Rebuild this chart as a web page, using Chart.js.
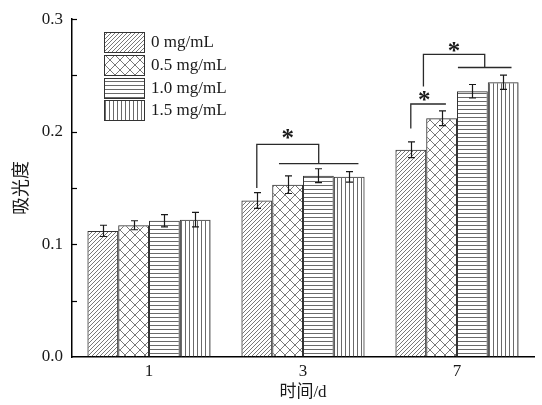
<!DOCTYPE html>
<html>
<head>
<meta charset="utf-8">
<script src="https://cdn.jsdelivr.net/npm/chart.js@4/dist/chart.umd.min.js"></script>
<style>
  html, body { margin: 0; padding: 0; background: #fff; }
  #wrap { width: 542px; height: 405px; }
</style>
</head>
<body>
<div id="wrap"><canvas id="c" width="542" height="405"></canvas></div>
<script>
// Absorbance by culture time and extract concentration
const days = ['1', '3', '7'];
const concentrations = ['0 mg/mL', '0.5 mg/mL', '1.0 mg/mL', '1.5 mg/mL'];

const abs0  = [0.112, 0.139, 0.184];
const abs05 = [0.117, 0.153, 0.212];
const abs10 = [0.121, 0.161, 0.236];
const abs15 = [0.122, 0.160, 0.244];

const sd0  = [0.005, 0.007, 0.007];
const sd05 = [0.004, 0.0078, 0.0066];
const sd10 = [0.0055, 0.0062, 0.006];
const sd15 = [0.0065, 0.0047, 0.0063];

const yTickValues = [0, 0.1, 0.2, 0.3];
const yTickLabels = ['0.0', '0.1', '0.2', '0.3'];
const yMinorValues = [0.05, 0.1, 0.15, 0.2, 0.25, 0.3];

const SERIF = "'Liberation Serif', 'Times New Roman', serif";
const CJK = "'Liberation Serif', 'Noto Sans CJK SC', serif";
const INK = '#1a1a1a';
const HATCH = '#555';

// Hatch fills for the four concentrations
function makePattern(kind) {
  const c = document.createElement('canvas');
  const g = c.getContext('2d');
  let s = 4;
  if (kind === 'cross') s = 10;
  c.width = s; c.height = s;
  g.strokeStyle = HATCH;
  g.fillStyle = HATCH;
  g.lineWidth = 0.8;
  if (kind === 'diag') {
    g.beginPath();
    g.moveTo(0, s); g.lineTo(s, 0);
    g.moveTo(-1, 1); g.lineTo(1, -1);
    g.moveTo(s - 1, s + 1); g.lineTo(s + 1, s - 1);
    g.stroke();
  } else if (kind === 'cross') {
    g.beginPath();
    g.moveTo(0, 0); g.lineTo(s, s);
    g.moveTo(0, s); g.lineTo(s, 0);
    g.stroke();
  } else if (kind === 'horiz') {
    g.fillStyle = '#6a6a6a';
    g.fillRect(0, 1, s, 1);
  } else if (kind === 'vert') {
    g.fillStyle = '#6a6a6a';
    g.fillRect(1, 0, 1, s);
  }
  return g.createPattern(c, 'repeat');
}

const fills = [makePattern('diag'), makePattern('cross'), makePattern('horiz'), makePattern('vert')];
const seriesValues = [abs0, abs05, abs10, abs15];
const seriesErrors = [sd0, sd05, sd10, sd15];

const datasets = seriesValues.map((vals, k) => ({
  label: concentrations[k],
  data: vals,
  backgroundColor: fills[k],
  borderColor: '#333',
  borderWidth: 1,
  borderSkipped: 'start',
  categoryPercentage: 0.8,
  barPercentage: 1.0
}));

const whiteBg = {
  id: 'whiteBg',
  beforeDraw(chart) {
    const ctx = chart.ctx;
    ctx.save();
    ctx.fillStyle = '#fff';
    ctx.fillRect(0, 0, chart.width, chart.height);
    ctx.restore();
  }
};

const decorations = {
  id: 'decorations',
  afterDatasetsDraw(chart) {
    const ctx = chart.ctx;
    const y = chart.scales.y;
    const area = chart.chartArea;
    const bar = (d, i) => chart.getDatasetMeta(d).data[i];

    ctx.save();

    // error bars
    ctx.strokeStyle = INK;
    ctx.lineWidth = 1.2;
    seriesValues.forEach((vals, d) => {
      vals.forEach((v, i) => {
        const el = bar(d, i);
        const e = seriesErrors[d][i];
        const yt = y.getPixelForValue(v + e);
        const yb = y.getPixelForValue(v - e);
        const x = Math.round(el.x) + 0.5;
        ctx.beginPath();
        ctx.moveTo(x, yt); ctx.lineTo(x, yb);
        ctx.moveTo(x - 3.5, yt); ctx.lineTo(x + 3.5, yt);
        ctx.moveTo(x - 3.5, yb); ctx.lineTo(x + 3.5, yb);
        ctx.stroke();
      });
    });

    // inward ticks on the value axis
    ctx.strokeStyle = '#000';
    ctx.lineWidth = 1.2;
    yMinorValues.forEach(v => {
      const py = Math.round(y.getPixelForValue(v)) + 0.5;
      ctx.beginPath();
      ctx.moveTo(area.left, py); ctx.lineTo(area.left + 5, py);
      ctx.stroke();
    });

    // significance brackets
    ctx.strokeStyle = '#2a2a2a';
    ctx.lineWidth = 1.3;
    const w = bar(0, 0).width;
    const line = pts => {
      ctx.beginPath();
      ctx.moveTo(pts[0][0], pts[0][1]);
      for (let k = 1; k < pts.length; k++) ctx.lineTo(pts[k][0], pts[k][1]);
      ctx.stroke();
    };
    const star = (cx, cy) => {
      ctx.font = 'bold 25px ' + SERIF;
      ctx.fillStyle = INK;
      ctx.textAlign = 'center';
      ctx.textBaseline = 'alphabetic';
      const m = ctx.measureText('*');
      const base = cy + (m.actualBoundingBoxAscent - m.actualBoundingBoxDescent) / 2;
      ctx.fillText('*', cx, base);
    };

    // day 3: control vs treated groups
    {
      const xl = bar(0, 1).x;
      const l1 = bar(1, 1).x - 0.28 * w;
      const l2 = bar(3, 1).x + 0.30 * w;
      const xm = (l1 + l2) / 2;
      const top = y.getPixelForValue(0.1889);
      const low = y.getPixelForValue(0.1718);
      line([[xl, y.getPixelForValue(0.150)], [xl, top], [xm, top], [xm, low]]);
      line([[l1, low], [l2, low]]);
      star((xl + xm) / 2, y.getPixelForValue(0.1977));
    }
    // day 7: control vs 0.5 mg/mL
    {
      const xl = bar(0, 2).x;
      const xr = bar(1, 2).x + 0.14 * w;
      const top = y.getPixelForValue(0.2247);
      line([[xl, y.getPixelForValue(0.2030)], [xl, top], [xr, top]]);
      star(xl + 13.5, y.getPixelForValue(0.2321));
    }
    // day 7: control vs higher concentrations
    {
      const xl = bar(0, 2).x + 0.41 * w;
      const l1 = bar(2, 2).x - 0.47 * w;
      const l2 = bar(3, 2).x + 0.27 * w;
      const xm = (l1 + l2) / 2;
      const top = y.getPixelForValue(0.2688);
      const low = y.getPixelForValue(0.2571);
      line([[xl, y.getPixelForValue(0.2403)], [xl, top], [xm, top], [xm, low]]);
      line([[l1, low], [l2, low]]);
      star((xl + xm) / 2, y.getPixelForValue(0.2756));
    }

    // legend
    const lx = 104, ly = 32, bw = 40, bh = 20, step = 22.8;
    concentrations.forEach((name, k) => {
      const by = Math.round(ly + k * step);
      ctx.fillStyle = '#fff';
      ctx.fillRect(lx, by, bw, bh);
      ctx.fillStyle = fills[k];
      ctx.fillRect(lx, by, bw, bh);
      ctx.strokeStyle = '#333';
      ctx.lineWidth = 1;
      ctx.strokeRect(lx + 0.5, by + 0.5, bw, bh);
      ctx.fillStyle = INK;
      ctx.font = '17px ' + SERIF;
      ctx.textAlign = 'left';
      ctx.textBaseline = 'middle';
      ctx.fillText(name, lx + bw + 7, by + bh / 2 + 1);
    });

    ctx.restore();
  }
};

new Chart(document.getElementById('c'), {
  type: 'bar',
  data: { labels: days, datasets },
  options: {
    responsive: false,
    animation: false,
    devicePixelRatio: 1,
    layout: { padding: { top: 18, right: 8, left: 0, bottom: 0 } },
    plugins: { legend: { display: false }, tooltip: { enabled: false } },
    scales: {
      x: {
        type: 'category',
        grid: { display: true, drawOnChartArea: false, drawTicks: false },
        border: { display: true, color: '#000', width: 1.5 },
        ticks: { color: INK, font: { family: SERIF, size: 17 }, padding: 4 },
        title: {
          display: true, text: '时间/d', color: INK,
          font: { family: CJK, size: 17 }, padding: { top: 2, bottom: 2 }
        },
        afterFit(s) { s.height = 48; }
      },
      y: {
        min: 0, max: 0.3,
        grid: { display: true, drawOnChartArea: false, drawTicks: false },
        border: { display: true, color: '#000', width: 1.5 },
        ticks: {
          stepSize: 0.1, color: INK, padding: 9,
          font: { family: SERIF, size: 17 },
          callback(v) {
            const i = yTickValues.findIndex(t => Math.abs(t - v) < 1e-9);
            return i >= 0 ? yTickLabels[i] : '';
          }
        },
        title: {
          display: true, text: '吸光度', color: INK,
          font: { family: CJK, size: 18 }, padding: { top: 11, bottom: 11 }
        },
        afterFit(s) { s.width = 72; }
      }
    }
  },
  plugins: [whiteBg, decorations]
});
</script>
</body>
</html>
